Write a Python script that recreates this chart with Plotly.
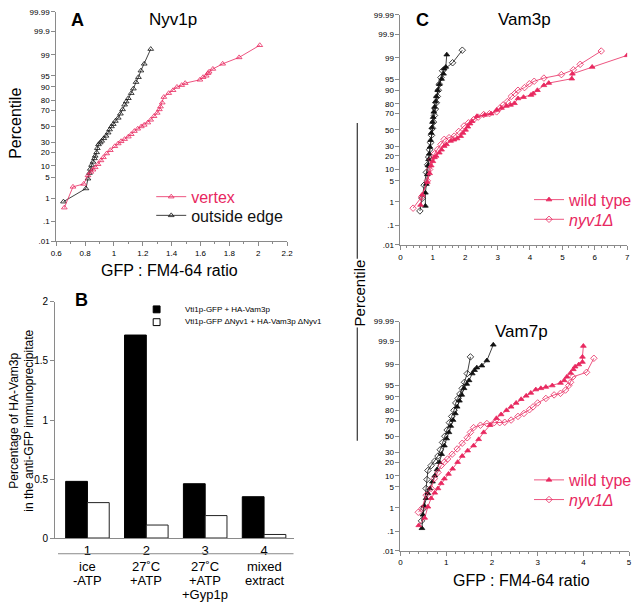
import plotly.graph_objects as go
from statistics import NormalDist

W, H = 640, 603
PINK = '#E8285F'
BLACK = '#111111'
GREY = '#8a8a8a'
FONT = 'Liberation Sans, Arial, sans-serif'

# ---------------- data ----------------
prob_ticks = [99.99, 99.9, 99, 95, 90, 80, 70, 50, 30, 20, 10, 5, 1, 0.1, 0.01]
prob_text = ['99.99', '99.9', '99', '95', '90', '80', '70', '50', '30', '20', '10', '5', '1', '.1', '.01']

# Panel A: Nyv1p
a_edge_x = [0.65, 0.806, 0.82, 0.83, 0.836, 0.845, 0.855, 0.865, 0.87, 0.88, 0.885, 0.893, 0.905, 0.915,
            0.93, 0.945, 0.96, 0.97, 0.983, 0.995, 1.01, 1.03, 1.045, 1.06, 1.074, 1.085, 1.10, 1.12,
            1.135, 1.153, 1.17, 1.187, 1.21, 1.255]
a_edge_p = [0.73, 2.2, 4.5, 6.5, 8.4, 10.5, 12.5, 15, 17, 20, 24, 28, 30, 32, 35, 38, 42, 46, 50, 53, 57,
            61, 66, 71, 76, 79, 82, 86, 89, 92.5, 94.5, 96.5, 97.9, 99.4]
a_vertex_x = [0.656, 0.716, 0.79, 0.82, 0.84, 0.855, 0.87, 0.89, 0.91, 0.927, 0.95, 0.975, 1.006, 1.03,
              1.05, 1.074, 1.10, 1.12, 1.142, 1.165, 1.19, 1.21, 1.235, 1.255, 1.278, 1.30, 1.315, 1.323,
              1.335, 1.346, 1.38, 1.41, 1.437, 1.47, 1.494, 1.596, 1.618, 1.64, 1.652, 1.66, 1.686, 1.754,
              1.868, 2.011]
a_vertex_p = [0.42, 2.5, 3.1, 5.6, 7, 8, 9.2, 11, 13.5, 15.8, 19, 22, 26, 29, 31.5, 34, 37, 40, 44, 47, 50,
              52, 55, 58.5, 63, 67, 71, 74, 78, 83, 86, 88, 90, 91, 92, 93.5, 94.5, 95, 95.8, 96.2, 96.9,
              97.9, 98.75, 99.58]

# Panel B: co-immunoprecipitation
b_groups = [1, 2, 3, 4]
b_wt = [0.48, 1.72, 0.46, 0.35]
b_dnyv1 = [0.30, 0.11, 0.19, 0.03]
b_tick_text = ['1', '2', '3', '4']
b_cat_lines = [['ice', '-ATP'], ['27˚C', '+ATP'], ['27˚C', '+ATP', '+Gyp1p'], ['mixed', 'extract']]
b_legend = ['Vti1p-GFP + HA-Vam3p', 'Vti1p-GFP ΔNyv1 + HA-Vam3p ΔNyv1']

# Panel C top: Vam3p
c3_bwt_x = [0.77, 0.77, 0.80, 0.83, 0.85, 0.87, 0.89, 0.91, 0.93, 0.95, 0.97, 0.99, 1.01, 1.03, 1.05,
            1.08, 1.11, 1.15, 1.2, 1.27, 1.33, 1.35, 1.40, 1.43]
c3_bwt_p = [0.7, 2.1, 4, 7.5, 12.5, 17, 22, 29, 37, 46, 53, 60, 66, 72, 77, 82, 86, 90, 93, 95, 96.5,
            97.6, 97.9, 99.25]
c3_bny_x = [0.6, 0.67, 0.73, 0.80, 0.84, 0.87, 0.9, 0.93, 0.96, 0.99, 1.02, 1.05, 1.08, 1.11, 1.14, 1.17,
            1.2, 1.25, 1.3, 1.61, 1.91]
c3_bny_p = [0.44, 1.35, 3.7, 8.5, 13, 19, 26, 34, 43, 52, 60, 68, 75, 81, 86, 90, 93, 95.5, 97.2, 98.5, 99.5]
c3_pwt_x = [0.62, 0.67, 0.83, 0.9, 0.95, 1.0, 1.05, 1.1, 1.2, 1.27, 1.35, 1.42, 1.55, 1.65, 1.75, 1.86,
            1.93, 2.01, 2.08, 2.15, 2.21, 2.36, 2.6, 2.8, 2.97, 3.12, 3.27, 3.4, 3.52, 3.63, 3.8, 4.03, 4.1,
            4.23, 4.43, 4.58, 5.29, 5.31, 5.92, 7.0]
c3_pwt_p = [0.76, 1.8, 4.6, 8, 12.4, 15.5, 18.7, 20, 23, 26, 30, 32, 36, 37.5, 39, 42, 46, 50, 54, 58, 61,
            67, 68.5, 70, 74, 76, 78, 79, 80.5, 84.5, 85.5, 87, 88, 90, 92.5, 93.5, 95.1, 96.5, 97.9, 99.2]
c3_pny_x = [0.39, 0.65, 0.83, 0.9, 0.95, 1.05, 1.15, 1.25, 1.35, 1.5, 1.66, 1.8, 1.96, 2.1, 2.26, 2.4, 2.57,
            2.75, 2.97, 3.07, 3.17, 3.3, 3.42, 3.53, 3.63, 3.83, 3.98, 4.13, 4.43, 4.97, 5.34, 5.55, 6.2]
c3_pny_p = [0.57, 1.5, 5, 10, 17, 22, 26.5, 32, 38, 40, 42, 48, 55, 59, 63, 66, 69, 70, 72, 76, 79, 82, 86,
            88, 90, 91.4, 93.2, 94.2, 95.3, 96.3, 97.4, 98.3, 99.46]

# Panel C bottom: Vam7p
c7_bwt_x = [0.47, 0.49, 0.52, 0.56, 0.6, 0.64, 0.7, 0.75, 0.8, 0.85, 0.9, 0.96, 1.01, 1.06, 1.10, 1.15,
            1.2, 1.24, 1.29, 1.34, 1.39, 1.45, 1.5, 1.57, 1.62, 1.67, 1.78, 1.89, 2.03]
c7_bwt_p = [0.14, 0.54, 1.2, 2.2, 3.2, 4.5, 7, 10, 14, 20, 28, 38, 47, 55, 63, 70, 77, 83, 87.5, 91, 94,
            95.5, 96.5, 97.9, 98.4, 98.7, 98.9, 99.3, 99.85]
c7_bny_x = [0.46, 0.51, 0.56, 0.58, 0.60, 0.67, 0.75, 0.82, 0.87, 0.92, 0.97, 1.02, 1.07, 1.12, 1.17, 1.21,
            1.26, 1.3, 1.35, 1.4, 1.46, 1.53]
c7_bny_p = [0.3, 0.97, 4.5, 8, 13.3, 17, 21, 26, 33, 42, 50, 58, 67, 74, 80, 86, 89, 91.5, 94, 96, 97.9, 99.5]
c7_pwt_x = [0.40, 0.53, 0.60, 0.67, 0.75, 0.82, 0.89, 0.96, 1.05, 1.14, 1.25, 1.35, 1.47, 1.60, 1.71, 1.82,
            1.96, 2.10, 2.2, 2.32, 2.42, 2.53, 2.64, 2.75, 2.85, 2.96, 3.07, 3.18, 3.32, 3.5, 3.58, 3.64,
            3.72, 3.78, 3.82, 3.9, 3.98, 3.98, 4.0]
c7_pwt_p = [0.19, 0.4, 1.1, 2.2, 3.3, 4.5, 6.3, 8.4, 11, 14.5, 20, 26, 32, 38, 46, 55, 64, 72, 76, 80, 83,
            86, 88.5, 90.5, 92, 93.5, 94, 94.5, 95, 95.8, 96.5, 97.3, 98, 98.5, 98.8, 99.0, 99.2, 99.5, 99.83]
c7_pny_x = [0.39, 0.47, 0.56, 0.67, 0.74, 0.82, 0.89, 0.96, 1.03, 1.13, 1.24, 1.35, 1.46, 1.53, 1.60, 1.75,
            1.89, 2.05, 2.17, 2.28, 2.42, 2.57, 2.7, 2.82, 2.9, 3.0, 3.18, 3.36, 3.50, 3.61, 3.68, 3.72,
            3.77, 4.07, 4.23]
c7_pny_p = [0.68, 0.96, 2.8, 4.5, 8.4, 12, 17, 20, 23, 28, 34, 41, 48, 55, 61, 64, 66, 67, 67, 67.5, 70,
            74, 77, 80.5, 83, 86, 89, 91, 91.8, 93.3, 95, 96, 97.3, 98.1, 99.43]

# ---------------- helpers ----------------
ND = NormalDist()


def probit(vals):
    return [ND.inv_cdf(v / 100.0) for v in vals]


def px(x):
    return x / W


def py(y):
    return 1 - y / H


ZMAX = ND.inv_cdf(0.9999)

fig = go.Figure()


def prob_trace(xs, ps, color, symbol, name, xa, ya, legend, showlegend=True):
    fig.add_trace(go.Scatter(
        x=xs, y=probit(ps), mode='lines+markers', name=name,
        line=dict(color=color, width=0.8),
        marker=dict(symbol=symbol, size=5, color=color, line=dict(color=color, width=0.8)),
        xaxis=xa, yaxis=ya, legend=legend, showlegend=showlegend))


# Panel A
prob_trace(a_edge_x, a_edge_p, BLACK, 'triangle-up-open', 'outside edge', 'x', 'y', 'legend2')
prob_trace(a_vertex_x, a_vertex_p, PINK, 'triangle-up-open', 'vertex', 'x', 'y', 'legend')

# Panel B
fig.add_trace(go.Bar(x=b_groups, y=b_wt, name=b_legend[0], marker=dict(color='black', line=dict(color='black', width=1)),
                     xaxis='x2', yaxis='y2', showlegend=False))
fig.add_trace(go.Bar(x=b_groups, y=b_dnyv1, name=b_legend[1], marker=dict(color='white', line=dict(color='#222', width=1)),
                     xaxis='x2', yaxis='y2', showlegend=False))

# Panel C top
prob_trace(c3_bny_x, c3_bny_p, BLACK, 'diamond-open', 'nyv1Δ black', 'x3', 'y3', 'legend4', False)
prob_trace(c3_bwt_x, c3_bwt_p, BLACK, 'triangle-up', 'wt black', 'x3', 'y3', 'legend3', False)
prob_trace(c3_pny_x, c3_pny_p, PINK, 'diamond-open', '<i>nyv1Δ</i>', 'x3', 'y3', 'legend4')
prob_trace(c3_pwt_x, c3_pwt_p, PINK, 'triangle-up', 'wild type', 'x3', 'y3', 'legend3')

# Panel C bottom
prob_trace(c7_bny_x, c7_bny_p, BLACK, 'diamond-open', 'nyv1Δ black', 'x4', 'y4', 'legend6', False)
prob_trace(c7_bwt_x, c7_bwt_p, BLACK, 'triangle-up', 'wt black', 'x4', 'y4', 'legend5', False)
prob_trace(c7_pny_x, c7_pny_p, PINK, 'diamond-open', '<i>nyv1Δ</i>', 'x4', 'y4', 'legend6')
prob_trace(c7_pwt_x, c7_pwt_p, PINK, 'triangle-up', 'wild type', 'x4', 'y4', 'legend5')

# ---------------- axes ----------------
def prob_yaxis(dom):
    return dict(domain=dom, range=[-ZMAX, ZMAX], tickvals=probit(prob_ticks), ticktext=prob_text,
                showline=True, linecolor=GREY, linewidth=1, ticks='outside', ticklen=4, tickcolor=GREY,
                tickfont=dict(size=8, color='black', family=FONT), showgrid=False, zeroline=False, fixedrange=True)


def num_xaxis(dom, rng, dtick, mdt, anchor):
    return dict(domain=dom, range=rng, dtick=dtick, tick0=0, anchor=anchor,
                showline=True, linecolor=GREY, linewidth=1, ticks='outside', ticklen=4, tickcolor=GREY,
                minor=dict(dtick=mdt, ticklen=2, tickcolor=GREY, ticks='outside'),
                tickfont=dict(size=8, color='black', family=FONT), showgrid=False, zeroline=False)


fig.update_layout(
    width=W, height=H, margin=dict(l=0, r=0, t=0, b=0),
    paper_bgcolor='white', plot_bgcolor='white',
    font=dict(family=FONT, color='black'),
    barmode='group', bargap=0.26, bargroupgap=0,
    xaxis=num_xaxis([px(51.2), px(286.4)], [0.6, 2.2], 0.2, 0.1, 'y'),
    yaxis=prob_yaxis([py(240), py(7)]),
    xaxis2=dict(domain=[px(50), px(293)], range=[0.45, 4.5], tickvals=b_groups, ticktext=b_tick_text,
                anchor='y2', showline=True, linecolor=GREY, linewidth=1, ticks='', showgrid=False,
                zeroline=False, tickfont=dict(size=13, color='black', family=FONT)),
    yaxis2=dict(domain=[py(542), py(302)], range=[0, 2], tickvals=[0, 0.5, 1, 1.5, 2],
                ticktext=['0', '0.5', '1', '1.5', '2'], anchor='x2', showline=True, linecolor=GREY,
                linewidth=1, ticks='outside', ticklen=4, tickcolor=GREY, showgrid=False, zeroline=False,
                tickfont=dict(size=10, color='black', family=FONT)),
    xaxis3=num_xaxis([px(402), px(633)], [0, 7], 1, 0.2, 'y3'),
    yaxis3=dict(prob_yaxis([py(244), py(10)]), anchor='x3'),
    xaxis4=num_xaxis([px(402), px(635)], [0, 5], 1, 0.2, 'y4'),
    yaxis4=dict(prob_yaxis([py(555), py(322)]), anchor='x4'),
)
fig.layout.yaxis.anchor = 'x'


def leg(xl, yc, color):
    return dict(x=px(xl), y=py(yc), xanchor='left', yanchor='middle', bgcolor='rgba(0,0,0,0)',
                borderwidth=0, font=dict(size=16, color=color, family=FONT), itemwidth=30)


fig.update_layout(
    legend=leg(148, 195, PINK),
    legend2=leg(148, 214, BLACK),
    legend3=leg(533, 198, PINK),
    legend4=leg(533, 218, PINK),
    legend5=leg(533, 483, PINK),
    legend6=leg(533, 503, PINK),
)

# ---------------- annotations ----------------
ann = []


def txt(x, y, s, size, bold=False, angle=0, xanchor='center', color='black'):
    ann.append(dict(x=px(x), y=py(y), xref='paper', yref='paper', text=('<b>%s</b>' % s) if bold else s,
                    showarrow=False, textangle=angle, xanchor=xanchor, yanchor='middle',
                    font=dict(size=size, color=color, family=FONT)))


txt(73, 15, 'A', 18, bold=True)
txt(170, 15, 'Nyv1p', 17)
txt(9, 120, 'Percentile', 16, angle=-90)
txt(167, 270, 'GFP : FM4-64 ratio', 16)
txt(77, 300, 'B', 18, bold=True)
txt(16, 423, 'Percentage of HA-Vam3p<br>in the anti-GFP immunoprecipitate', 12, angle=-90)
txt(424, 15, 'C', 18, bold=True)
txt(528, 15, 'Vam3p', 17)
txt(525, 332, 'Vam7p', 17)
txt(360, 293, 'Percentile', 15, angle=-90)
txt(525, 585, 'GFP : FM4-64 ratio', 16)
txt(180, 310, b_legend[0], 8, xanchor='left')
txt(180, 322, b_legend[1], 8, xanchor='left')

for g, lines in zip(b_groups, b_cat_lines):
    for i, s in enumerate(lines):
        ann.append(dict(x=g, y=py(571 + 14 * i), xref='x2', yref='paper', text=s, showarrow=False,
                        xanchor='center', yanchor='middle', font=dict(size=13, color='black', family=FONT)))

fig.update_layout(annotations=ann)

shapes = [
    dict(type='line', xref='paper', yref='paper', x0=px(53), x1=px(293), y0=py(558), y1=py(558),
         line=dict(color=GREY, width=1)),
    dict(type='line', xref='paper', yref='paper', x0=px(358), x1=px(358), y0=py(120), y1=py(258),
         line=dict(color='#333', width=1.2)),
    dict(type='line', xref='paper', yref='paper', x0=px(358), x1=px(358), y0=py(328), y1=py(443),
         line=dict(color='#333', width=1.2)),
    dict(type='rect', xref='paper', yref='paper', x0=px(150), x1=px(157), y0=py(313), y1=py(306),
         fillcolor='black', line=dict(color='black', width=1)),
    dict(type='rect', xref='paper', yref='paper', x0=px(150), x1=px(157), y0=py(326), y1=py(319),
         fillcolor='white', line=dict(color='black', width=1)),
]
fig.update_layout(shapes=shapes)

fig.write_html('out.html', config={'displayModeBar': False},
               post_script="document.body.style.margin='0';document.body.style.overflow='hidden';")
